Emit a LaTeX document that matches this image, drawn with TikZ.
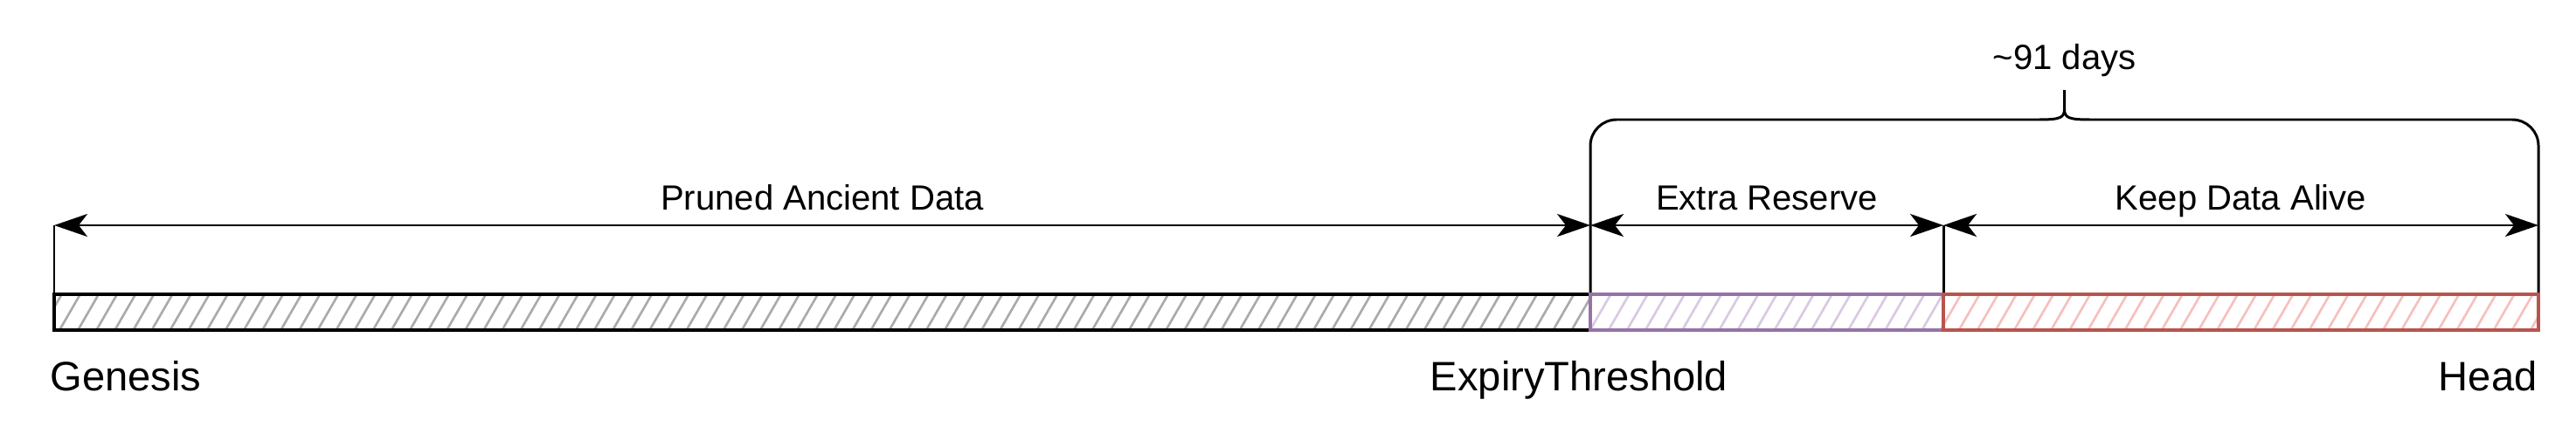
\documentclass[tikz,border=0pt]{standalone}
\usepackage{fontspec}
\setmainfont{Liberation Sans}
\usepackage{xcolor}
\usepackage{tikz}
\usetikzlibrary{calc,arrows.meta,patterns.meta}
\definecolor{purpleline}{HTML}{9673A6}\definecolor{purplehatch}{HTML}{D9C9E2}
\definecolor{redline}{HTML}{B85450}\definecolor{redhatch}{HTML}{F5C0BD}
\definecolor{grayhatch}{HTML}{AAAAAA}

\begin{document}
\begin{tikzpicture}[line width=0.85pt,
  dim/.style={{Stealth[length=3.8mm,width=2.6mm,inset=1mm]}-{Stealth[length=3.8mm,width=2.6mm,inset=1mm]}},
  seg/.style={line width=1.2pt,pattern={Lines[angle=60,distance=5.2pt,line width=0.75pt]}},
  lab/.style={font=\fontsize{11.4}{13}\selectfont,inner sep=0pt,anchor=base},
  big/.style={font=\fontsize{13.4}{15}\selectfont,inner sep=0pt}]
\useasboundingbox(0,0)rectangle(29.48,4.96);
\coordinate(G)at(0.62,1.59);\coordinate(E)at(18.20,1.59);\coordinate(M)at(22.24,1.59);\coordinate(H)at(29.05,1.59);
\coordinate(g)at($(G)+(0,0.79)$);\coordinate(e)at($(E)+(0,0.79)$);\coordinate(m)at($(M)+(0,0.79)$);\coordinate(h)at($(H)+(0,0.79)$);
\coordinate(T)at($(E)!0.5!(H)+(0,2)$);
% ticks and brace
\draw(G)--(g);\draw(M)--(m);
\draw(E)--($(E)+(0,1.7)$)arc(180:90:0.3)--($(T)+(-0.3,0)$)..controls($(T)+(-0.05,0)$)and($(T)+(0,0.02)$)..($(T)+(0,0.12)$)--($(T)+(0,0.34)$);
\draw($(T)+(0,0.12)$)..controls($(T)+(0,0.02)$)and($(T)+(0.05,0)$)..($(T)+(0.3,0)$)--($(H)+(-0.3,2)$)arc(90:0:0.3)--(H);
% bars
\draw[seg,pattern color=grayhatch](G)rectangle($(E)+(0,-0.41)$);
\draw[seg,pattern color=purplehatch,draw=purpleline](E)rectangle($(M)+(0,-0.41)$);
\draw[seg,pattern color=redhatch,draw=redline](M)rectangle($(H)+(0,-0.41)$);
% spans
\draw[dim](g)--(e);\draw[dim](e)--(m);\draw[dim](m)--(h);
\node[lab](pruned)at($(g)!0.5!(e)+(0,0.18)$){Pruned Ancient Data};
\node[lab](extra)at($(e)!0.5!(m)+(0,0.18)$){Extra Reserve};
\node[lab](alive)at($(m)!0.5!(h)+(0,0.18)$){Keep Data Alive};
\node[lab](days)at($(T)+(0,0.57)$){\textasciitilde91 days};
\node[big,anchor=base west](genesis)at($(G)+(-0.06,-1.10)$){Genesis};
\node[big,anchor=base](expiry)at($(E)+(-0.13,-1.10)$){ExpiryThreshold};
\node[big,anchor=base east](head)at($(H)+(0,-1.10)$){Head};
\end{tikzpicture}
\end{document}
